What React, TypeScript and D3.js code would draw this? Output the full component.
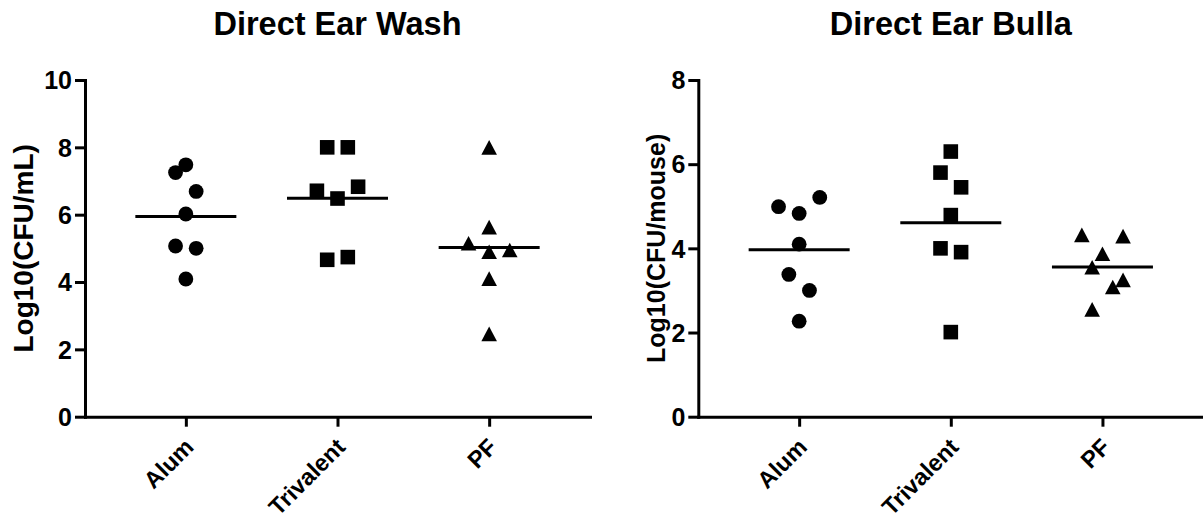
import React, { useEffect, useRef } from "react";
import * as d3 from "d3";

const groups = ["Alum", "Trivalent", "PF"];
const shapes = ["circle", "square", "triangle"];

// Direct Ear Wash, Log10(CFU/mL)
const washAlum = [7.48, 7.25, 6.69, 6.02, 5.07, 5.0, 4.09];
const washTrivalent = [8.0, 8.0, 6.71, 6.48, 6.83, 4.66, 4.74];
const washPF = [8.0, 5.63, 5.15, 4.9, 4.95, 4.1, 2.46];
const washTicks = [0, 2, 4, 6, 8, 10];

// Direct Ear Bulla, Log10(CFU/mouse)
const bullaAlum = [4.99, 4.83, 5.21, 4.1, 3.38, 3.0, 2.27];
const bullaTrivalent = [6.3, 5.8, 5.45, 4.79, 4.0, 3.91, 2.01];
const bullaPF = [4.32, 4.29, 3.87, 3.55, 3.25, 3.08, 2.55];
const bullaTicks = [0, 2, 4, 6, 8];

// side-by-side slots for points that would overlap (scatter dot plot spread)
const washAlumSlot = [0, -1, 1, 0, -1, 1, 0];
const washTrivalentSlot = [-1, 1, -2, 0, 2, -1, 1];
const washPFSlot = [0, 0, -2, 0, 2, 0, 0];
const bullaAlumSlot = [-2, 0, 2, 0, -1, 1, 0];
const bullaTrivalentSlot = [0, -1, 1, 0, -1, 1, 0];
const bullaPFSlot = [-2, 2, 0, -1, 2, 1, -1];

const W = 1203;
const H = 522;
const font = "Arial, 'Liberation Sans', sans-serif";

export default function App() {
  const ref = useRef<SVGSVGElement>(null);

  useEffect(() => {
    const svg = d3.select(ref.current);
    svg.selectAll("*").remove();

    const panels = [
      {
        title: "Direct Ear Wash",
        yLabel: "Log10(CFU/mL)",
        yMax: 10,
        ticks: washTicks,
        values: [washAlum, washTrivalent, washPF],
        slots: [washAlumSlot, washTrivalentSlot, washPFSlot],
        x0: 85,
        x1: 590,
        labelX: 33,
        labelSize: 28,
      },
      {
        title: "Direct Ear Bulla",
        yLabel: "Log10(CFU/mouse)",
        yMax: 8,
        ticks: bullaTicks,
        values: [bullaAlum, bullaTrivalent, bullaPF],
        slots: [bullaAlumSlot, bullaTrivalentSlot, bullaPFSlot],
        x0: 698.3,
        x1: 1203.3,
        labelX: 665,
        labelSize: 25,
      },
    ];

    const yTop = 80;
    const yBottom = 416.7;
    const spread = 10.3;

    panels.forEach((p) => {
      const x = d3.scalePoint().domain(groups).range([p.x0, p.x1]).padding(0.665);
      const y = d3.scaleLinear().domain([0, p.yMax]).range([yBottom, yTop]);
      const g = svg.append("g");

      // y axis
      const ya = g
        .append("g")
        .attr("transform", `translate(${p.x0},0)`)
        .call(d3.axisLeft(y).tickValues(p.ticks).tickSize(10).tickSizeOuter(0).tickPadding(3).tickFormat(d3.format("d")));
      // x axis
      const xa = g
        .append("g")
        .attr("transform", `translate(0,${yBottom})`)
        .call(d3.axisBottom(x).tickSize(10).tickSizeOuter(0));

      [ya, xa].forEach((a) => {
        a.select(".domain").attr("stroke", "#000").attr("stroke-width", 3).attr("stroke-linecap", "square");
        a.selectAll(".tick line").attr("stroke", "#000").attr("stroke-width", 3);
        a.selectAll("text")
          .attr("fill", "#000")
          .attr("font-family", font)
          .attr("font-weight", "bold")
          .attr("font-size", 25);
      });
      ya.selectAll("text").attr("dy", "0.35em");

      xa.selectAll(".tick text")
        .attr("font-size", 23.5)
        .attr("text-anchor", "end")
        .attr("x", 0)
        .attr("y", 0)
        .attr("dy", "0.71em")
        .attr("transform", "translate(-3,20) rotate(-45)");

      // titles
      g.append("text")
        .attr("x", (p.x0 + p.x1) / 2)
        .attr("y", 35)
        .attr("text-anchor", "middle")
        .attr("font-family", font)
        .attr("font-weight", "bold")
        .attr("font-size", 32.5)
        .text(p.title);

      g.append("text")
        .attr("transform", `translate(${p.labelX},${(yTop + yBottom) / 2}) rotate(-90)`)
        .attr("text-anchor", "middle")
        .attr("font-family", font)
        .attr("font-weight", "bold")
        .attr("font-size", p.labelSize)
        .text(p.yLabel);

      // points and means
      groups.forEach((grp, i) => {
        const cx = x(grp) as number;
        const vals = p.values[i];
        const slots = p.slots[i];
        const pts = g.append("g").attr("fill", "#000");
        vals.forEach((v, j) => {
          const px = cx + slots[j] * spread;
          const py = y(v);
          if (shapes[i] === "circle") {
            pts.append("circle").attr("cx", px).attr("cy", py).attr("r", 7.4);
          } else if (shapes[i] === "square") {
            pts.append("rect").attr("x", px - 7.3).attr("y", py - 7.3).attr("width", 14.6).attr("height", 14.6);
          } else {
            pts
              .append("path")
              .attr("d", `M${px},${py - 7.3}L${px + 7.8},${py + 7.3}L${px - 7.8},${py + 7.3}Z`);
          }
        });
        const m = d3.mean(vals) as number;
        g.append("line")
          .attr("x1", cx - 50.5)
          .attr("x2", cx + 50.5)
          .attr("y1", y(m))
          .attr("y2", y(m))
          .attr("stroke", "#000")
          .attr("stroke-width", 3);
      });
    });
  }, []);

  return (
    <svg
      ref={ref}
      width={W}
      height={H}
      style={{ position: "absolute", left: 0, top: 0, background: "#fff" }}
    />
  );
}
